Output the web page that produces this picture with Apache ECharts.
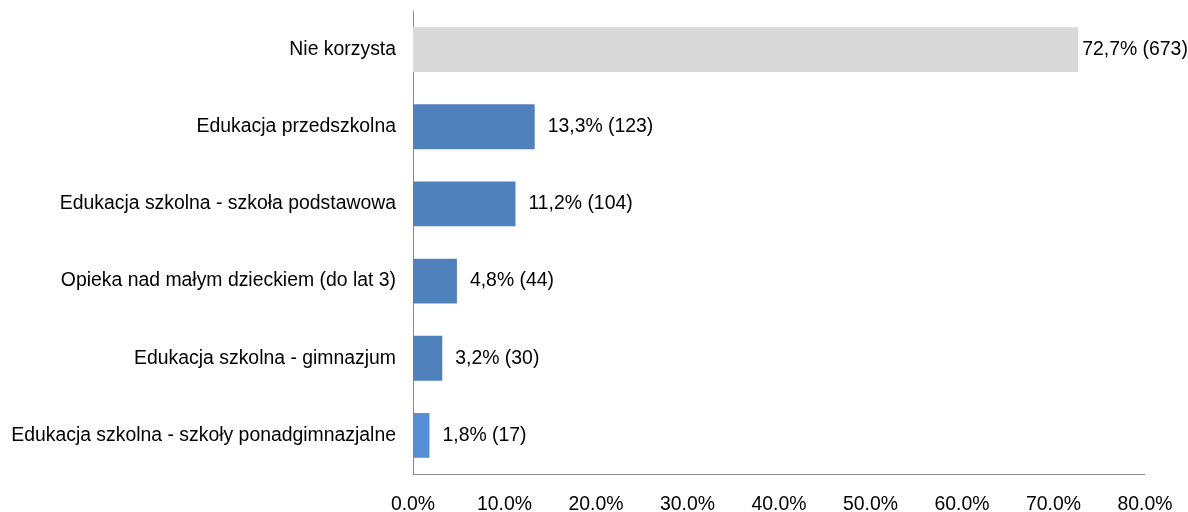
<!DOCTYPE html>
<html><head><meta charset="utf-8">
<script src="https://cdn.jsdelivr.net/npm/echarts@6/dist/echarts.min.js"></script>
<style>html,body{margin:0;padding:0;background:#fff}#c{width:1188px;height:512px}</style>
</head><body><div id="c"></div>
<script>
const categories = ["Nie korzysta","Edukacja przedszkolna","Edukacja szkolna - szkoła podstawowa","Opieka nad małym dzieckiem (do lat 3)","Edukacja szkolna - gimnazjum","Edukacja szkolna - szkoły ponadgimnazjalne"];
const percents = [72.7, 13.3, 11.2, 4.8, 3.2, 1.8];
const counts = [673, 123, 104, 44, 30, 17];
const barColors = ["#D9D9D9","#4F81BD","#4F81BD","#4F81BD","#4F81BD","#558ED5"];

const chart = echarts.init(document.getElementById('c'));
const font = "'Liberation Sans', Arial, sans-serif";
chart.setOption({
  animation: false,
  grid: {left: 413, right: 43, top: 11, bottom: 38, containLabel: false, outerBoundsMode: 'none'},
  xAxis: {
    type: 'value', min: 0, max: 80, interval: 10,
    axisLine: {show: true, lineStyle: {color: '#898989', width: 1}},
    axisTick: {show: false},
    splitLine: {show: false},
    axisLabel: {formatter: v => v.toFixed(1) + '%', color: '#000', fontSize: 19.4, fontFamily: font, margin: 21}
  },
  yAxis: {
    type: 'category', inverse: true, data: categories,
    axisLine: {show: true, lineStyle: {color: '#898989', width: 1}},
    axisTick: {show: false},
    axisLabel: {color: '#000', fontSize: 19.4, fontFamily: font, margin: 17}
  },
  series: [{
    type: 'bar', barWidth: '58%',
    data: percents.map((v, i) => ({value: v, itemStyle: {color: barColors[i]}, label: {distance: i === 0 ? 4 : 13}})),
    label: {
      show: true, position: 'right', color: '#000', fontSize: 19.4, fontFamily: font,
      formatter: p => String(percents[p.dataIndex]).replace('.', ',') + '% (' + counts[p.dataIndex] + ')'
    }
  }]
});
</script></body></html>
